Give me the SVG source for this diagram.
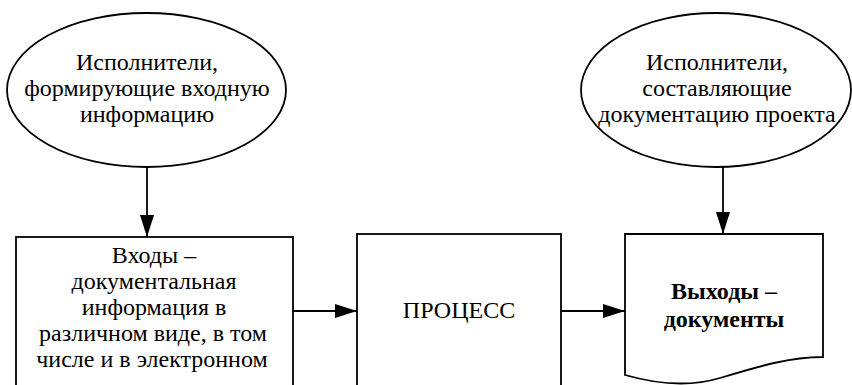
<svg xmlns="http://www.w3.org/2000/svg" width="852" height="385" viewBox="0 0 852 385">
<defs>
<marker id="arr" viewBox="0 0 22 14" refX="22" refY="7" markerWidth="22" markerHeight="14" markerUnits="userSpaceOnUse" orient="auto">
<path d="M0,0 L22,7 L0,14 Z" fill="#000"/>
</marker>
</defs>
<rect width="852" height="385" fill="#fff"/>
<g id="connectors" stroke="#000" stroke-width="1.8" fill="none">
<line x1="147" y1="167" x2="147" y2="237" marker-end="url(#arr)"/>
<line x1="723" y1="167" x2="723" y2="234" marker-end="url(#arr)"/>
<line x1="293" y1="311" x2="357" y2="311" marker-end="url(#arr)"/>
<line x1="561" y1="311" x2="625" y2="311" marker-end="url(#arr)"/>
</g>
<g id="performers-input">
<ellipse cx="146.5" cy="90" rx="139.5" ry="77" fill="#fff" stroke="#000" stroke-width="1.8"/>
<text font-family="Liberation Serif, serif" font-size="24" text-anchor="middle" fill="#000"><tspan font-family="Liberation Serif, serif" x="147" y="70">Исполнители,</tspan><tspan font-family="Liberation Serif, serif" x="147" y="96">формирующие входную</tspan><tspan font-family="Liberation Serif, serif" x="147" y="122">информацию</tspan></text>
</g>
<g id="performers-docs">
<ellipse cx="716" cy="90" rx="135" ry="77" fill="#fff" stroke="#000" stroke-width="1.8"/>
<text font-family="Liberation Serif, serif" font-size="24" text-anchor="middle" fill="#000"><tspan font-family="Liberation Serif, serif" x="717" y="70">Исполнители,</tspan><tspan font-family="Liberation Serif, serif" x="717" y="96">составляющие</tspan><tspan font-family="Liberation Serif, serif" x="717" y="122">документацию проекта</tspan></text>
</g>
<g id="inputs">
<rect x="16" y="237" width="277" height="170" fill="#fff" stroke="#000" stroke-width="1.8"/>
<text font-family="Liberation Serif, serif" font-size="24" text-anchor="middle" fill="#000"><tspan font-family="Liberation Serif, serif" x="154" y="263">Входы –</tspan><tspan font-family="Liberation Serif, serif" x="154" y="289">документальная</tspan><tspan font-family="Liberation Serif, serif" x="154" y="315">информация в</tspan><tspan font-family="Liberation Serif, serif" x="153" y="341">различном виде, в том</tspan><tspan font-family="Liberation Serif, serif" x="152" y="367">числе и в электронном</tspan></text>
</g>
<g id="process">
<rect x="357" y="234" width="204" height="170" fill="#fff" stroke="#000" stroke-width="1.8"/>
<text font-family="Liberation Serif, serif" font-size="24" text-anchor="middle" fill="#000"><tspan font-family="Liberation Serif, serif" x="459" y="318">ПРОЦЕСС</tspan></text>
</g>
<g id="outputs">
<path d="M625,234 H823 V357 C790,357 760,366 720,378 C690,387 660,385 625,375 Z" fill="#fff" stroke="#000" stroke-width="1.8"/>
<text font-family="Liberation Serif, serif" font-size="24" font-weight="bold" text-anchor="middle" fill="#000"><tspan font-family="Liberation Serif, serif" x="724" y="299">Выходы –</tspan><tspan font-family="Liberation Serif, serif" x="724" y="327">документы</tspan></text>
</g>
</svg>
